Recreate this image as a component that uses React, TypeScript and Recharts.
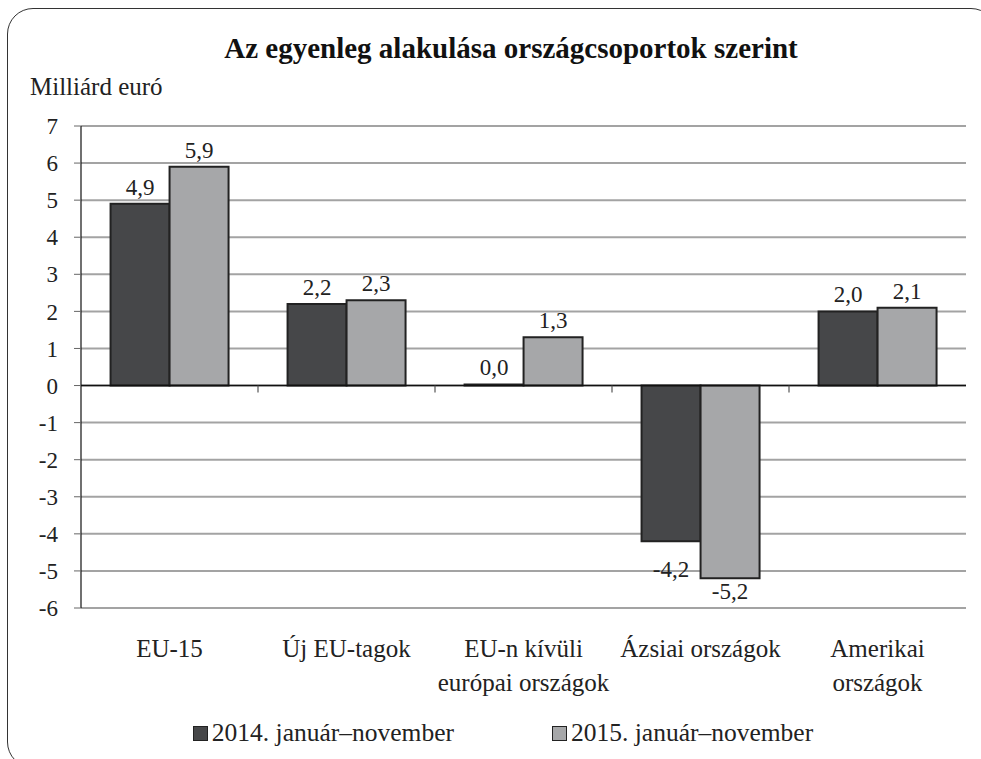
import React from "react";
import { BarChart, Bar, XAxis, YAxis, CartesianGrid, ReferenceLine, LabelList, Legend } from "recharts";

const categories = ["EU-15", "Új EU-tagok", "EU-n kívüli\neurópai országok", "Ázsiai országok", "Amerikai\nországok"];
const values2014 = [4.9, 2.2, 0.03, -4.2, 2.0];
const values2015 = [5.9, 2.3, 1.3, -5.2, 2.1];
const labels2014 = ["4,9", "2,2", "0,0", "-4,2", "2,0"];
const labels2015 = ["5,9", "2,3", "1,3", "-5,2", "2,1"];
const yTicks = [7, 6, 5, 4, 3, 2, 1, 0, -1, -2, -3, -4, -5, -6];
const seriesNames = ["2014. január–november", "2015. január–november"];

const data = categories.map((c, i) => ({
  name: c,
  v2014: values2014[i],
  v2015: values2015[i],
}));

const FONT = "Liberation Serif";
const DARK = "#464749";
const LIGHT = "#a6a7a9";

const CategoryTick = (props: any) => {
  const { x, y, payload } = props;
  const lines = String(payload.value).split("\n");
  return (
    <text x={x} y={y} textAnchor="middle" style={{ fontFamily: FONT }} fontSize={25} fill="#222">
      {lines.map((l, i) => (
        <tspan key={i} x={x} dy={i === 0 ? 41 : 34}>{l}</tspan>
      ))}
    </text>
  );
};

// negGap: distance from the bottom of a negative bar to the label baseline
const makeLabel = (vals: number[], labels: string[], negGap: number) => (props: any) => {
  const { x, y, width, height, index } = props;
  const top = Math.min(y, y + height);
  const bottom = Math.max(y, y + height);
  const ty = vals[index] < 0 ? bottom + negGap : top - 9;
  return (
    <text x={x + width / 2} y={ty} textAnchor="middle" style={{ fontFamily: FONT }} fontSize={23} fill="#222">
      {labels[index]}
    </text>
  );
};

const ZeroLine = (props: any) => {
  const { x1, y1, x2, y2 } = props;
  const step = (x2 - x1) / categories.length;
  return (
    <g>
      <line x1={x1} y1={y1} x2={x2} y2={y2} stroke="#111" strokeWidth={1.5} />
      {categories.slice(1).map((_, i) => (
        <line key={i} x1={x1 + step * (i + 1)} y1={y1} x2={x1 + step * (i + 1)} y2={y1 + 7} stroke="#555" strokeWidth={1.2} />
      ))}
    </g>
  );
};

const LegendContent = () => (
  <div style={{ display: "flex", justifyContent: "center", paddingLeft: 40, fontFamily: FONT, fontSize: 25.5, color: "#222", height: 40, alignItems: "center" }}>
    {seriesNames.map((n, i) => (
      <div key={n} style={{ display: "flex", alignItems: "center", marginLeft: i ? 98 : 0 }}>
        <span style={{ display: "inline-block", width: 15, height: 15, background: i ? LIGHT : DARK, border: "1.5px solid #222", boxSizing: "border-box", marginRight: 4 }} />
        <span>{n}</span>
      </div>
    ))}
  </div>
);

export default function App() {
  return (
    <div style={{ position: "fixed", left: 0, top: 0, width: 981, height: 759, overflow: "hidden", background: "#fff", fontFamily: FONT }}>
      <div style={{ position: "absolute", left: 7, top: 8, width: 990, height: 760, border: "1.5px solid #333", borderRadius: 26, boxSizing: "border-box" }} />
      <div style={{ position: "absolute", left: 0, width: 1022, textAlign: "center", top: 31, fontFamily: FONT, fontWeight: "bold", fontSize: 29, color: "#111", lineHeight: "34px" }}>
        Az egyenleg alakulása országcsoportok szerint
      </div>
      <div style={{ position: "absolute", left: 30, top: 72, fontFamily: FONT, fontSize: 25, color: "#222", lineHeight: "29px" }}>
        Milliárd euró
      </div>
      <div style={{ position: "absolute", left: 0, top: 0 }}>
        <BarChart width={981} height={759} data={data} margin={{ top: 126, right: 15, left: 0, bottom: 6 }} barCategoryGap="16.7%" barGap={0} style={{ fontFamily: FONT }}>
          <CartesianGrid vertical={false} stroke="#a3a3a3" strokeWidth={2} />
          <XAxis dataKey="name" axisLine={false} tickLine={false} tick={<CategoryTick />} height={105} interval={0} />
          <YAxis
            domain={[-6, 7]}
            ticks={yTicks}
            interval={0}
            width={81}
            tickSize={7}
            tickMargin={16}
            axisLine={{ stroke: "#111", strokeWidth: 1.2 }}
            tickLine={{ stroke: "#666" }}
            tick={{ fontFamily: FONT, fontSize: 23, fill: "#222" }}
          />
          <YAxis yAxisId="r" orientation="right" domain={[-6, 7]} ticks={yTicks} width={0} tick={false} tickLine={false} axisLine={{ stroke: "#8a8a8a", strokeWidth: 1.5 }} />
          <ReferenceLine y={0} shape={<ZeroLine />} />
          <Legend verticalAlign="bottom" content={<LegendContent />} />
          <Bar dataKey="v2014" fill={DARK} stroke="#222" strokeWidth={2} isAnimationActive={false}>
            <LabelList dataKey="v2014" content={makeLabel(values2014, labels2014, 36)} />
          </Bar>
          <Bar dataKey="v2015" fill={LIGHT} stroke="#222" strokeWidth={2} isAnimationActive={false}>
            <LabelList dataKey="v2015" content={makeLabel(values2015, labels2015, 21)} />
          </Bar>
        </BarChart>
      </div>
    </div>
  );
}
